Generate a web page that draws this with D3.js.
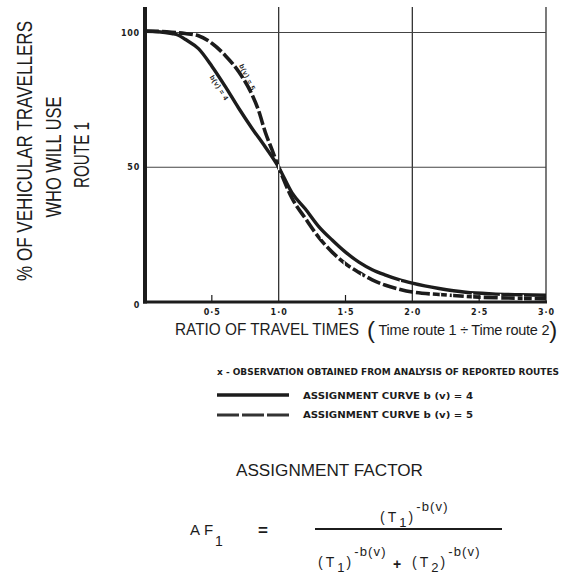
<!DOCTYPE html>
<html>
<head>
<meta charset="utf-8">
<script src="https://cdn.jsdelivr.net/npm/d3@7"></script>
<style>
  html, body { margin: 0; padding: 0; background: #fff; }
  svg { display: block; }
  text { fill: #1c1c1c; font-family: "Liberation Sans", Arial, sans-serif; }
</style>
</head>
<body>
<svg width="563" height="575"></svg>
<script>
// values (ratio of travel times -> % using route 1)
const ratioB4 = [0, 0.1, 0.2, 0.25, 0.3, 0.4, 0.5, 0.6, 0.7, 0.8, 0.9, 1.0, 1.1, 1.2, 1.3, 1.4, 1.5, 1.6, 1.7, 1.8, 1.9, 2.0, 2.2, 2.4, 2.6, 2.8, 3.0];
const pctB4   = [100.5, 100.3, 99.6, 99, 97.5, 94, 87.5, 80, 72, 64.5, 57.5, 50, 40.5, 34.5, 28, 23, 18.5, 14.8, 12, 10, 8.3, 7, 5, 3.6, 3, 2.7, 2.5];

const ratioB5 = [0, 0.1, 0.2, 0.3, 0.4, 0.5, 0.6, 0.7, 0.8, 0.85, 0.9, 0.95, 1.0, 1.1, 1.2, 1.3, 1.4, 1.5, 1.6, 1.7, 1.8, 1.9, 2.0, 2.2, 2.5, 2.8, 3.0];
const pctB5   = [100.5, 100.4, 100.1, 99.6, 98.8, 96, 91.5, 85.5, 77, 71, 63, 56.5, 50, 38.5, 31, 24, 18.5, 14.2, 11, 8.2, 6.2, 4.8, 3.7, 2.8, 1.8, 1.4, 1.2];

// observations from reported routes
const obsRatio = [1.0, 1.32, 1.49, 1.62, 1.91, 2.21, 2.3, 2.45, 2.66, 2.83];
const obsPct   = [50, 24.5, 14, 9.5, 7, 2.2, 2.3, 2.2, 1.9, 1.6];

const xTicks = [0.5, 1.0, 1.5, 2.0, 2.5, 3.0];
const yTicks = [0, 50, 100];
const xGrid = [1.0, 2.0, 3.0];
const yGrid = [50, 100];
const xMinor = [0.5, 1.5, 2.5];

const ink = '#1c1c1c';
const svg = d3.select('svg');

const x = d3.scaleLinear().domain([0, 3]).range([145, 546]);
const y = d3.scaleLinear().domain([0, 100]).range([302, 32.5]);

const g = svg.append('g');

// grid
g.selectAll('.vgrid').data(xGrid)
  .enter().append('line')
  .attr('x1', d => x(d)).attr('x2', d => x(d))
  .attr('y1', 7).attr('y2', y(0))
  .attr('stroke', '#333').attr('stroke-width', 1.3);

g.selectAll('.hgrid').data(yGrid)
  .enter().append('line')
  .attr('x1', x(0)).attr('x2', x(3))
  .attr('y1', d => y(d)).attr('y2', d => y(d))
  .attr('stroke', '#444').attr('stroke-width', 1.2);

// small ticks on the ratio axis
g.selectAll('.minor').data(xMinor)
  .enter().append('line')
  .attr('x1', d => x(d)).attr('x2', d => x(d))
  .attr('y1', y(0) - 7).attr('y2', y(0))
  .attr('stroke', ink).attr('stroke-width', 1.2);

// thick axes
g.append('line')
  .attr('x1', x(0)).attr('x2', x(0)).attr('y1', 7).attr('y2', y(0) + 1.5)
  .attr('stroke', ink).attr('stroke-width', 4);
g.append('line')
  .attr('x1', x(0) - 2).attr('x2', x(3) + 1).attr('y1', y(0)).attr('y2', y(0))
  .attr('stroke', ink).attr('stroke-width', 3.2);

// tick labels via d3 axes
const xAxis = d3.axisBottom(x).tickValues(xTicks).tickSize(0)
  .tickFormat(d => d3.format('.1f')(d).replace('.', '·'));
g.append('g').attr('transform', `translate(0, ${y(0) + 4})`).call(xAxis)
  .call(s => s.select('.domain').remove())
  .selectAll('text')
  .attr('font-size', 8).attr('font-weight', 'bold').attr('fill', ink)
  .attr('letter-spacing', 1).style('font-family', '"DejaVu Sans", sans-serif');

const yAxis = d3.axisLeft(y).tickValues(yTicks).tickSize(0).tickPadding(4);
g.append('g').attr('transform', `translate(${x(0) - 1}, 0)`).call(yAxis)
  .call(s => s.select('.domain').remove())
  .selectAll('text')
  .attr('font-size', 8).attr('font-weight', 'bold').attr('fill', ink)
  .attr('letter-spacing', 0.8).style('font-family', '"DejaVu Sans", sans-serif')
  .attr('dy', d => d === 0 ? '0.7em' : '0.32em');

// curves
const line = d3.line()
  .x(d => x(d[0]))
  .y(d => y(d[1]))
  .curve(d3.curveMonotoneX);

g.append('path')
  .datum(d3.zip(ratioB5, pctB5))
  .attr('d', line)
  .attr('fill', 'none').attr('stroke', ink)
  .attr('stroke-width', 3.6).attr('stroke-dasharray', '14,3');

g.append('path')
  .datum(d3.zip(ratioB4, pctB4))
  .attr('d', line)
  .attr('fill', 'none').attr('stroke', ink)
  .attr('stroke-width', 3.4);

// observation marks
g.selectAll('.obs').data(d3.zip(obsRatio, obsPct))
  .enter().append('line')
  .attr('x1', d => x(d[0])).attr('x2', d => x(d[0]))
  .attr('y1', d => y(d[1]) - 3).attr('y2', d => y(d[1]) + 3)
  .attr('stroke', '#fff').attr('stroke-width', 1.4);

// curve labels
g.append('text')
  .attr('transform', `translate(${x(0.75)}, ${y(83)}) rotate(64)`)
  .attr('text-anchor', 'middle').attr('font-size', 7).attr('font-weight', 'bold')
  .attr('letter-spacing', 0.5)
  .text('b(v) = 5');
g.append('text')
  .attr('transform', `translate(${x(0.54)}, ${y(79)}) rotate(58)`)
  .attr('text-anchor', 'middle').attr('font-size', 7).attr('font-weight', 'bold')
  .attr('letter-spacing', 0.5)
  .text('b(v) = 4');

// y title (three rotated lines, glyphs drawn tall and narrow)
const yTitle = [
  { t: '% OF VEHICULAR TRAVELLERS', x: 32, y: 151, len: 260 },
  { t: 'WHO WILL USE', x: 61, y: 157, len: 121 },
  { t: 'ROUTE 1', x: 89, y: 155, len: 66 }
];
svg.selectAll('.ytitle').data(yTitle)
  .enter().append('text')
  .attr('transform', d => `translate(${d.x}, ${d.y}) rotate(-90) scale(1, 1.3)`)
  .attr('text-anchor', 'middle')
  .attr('font-size', 16.5)
  .attr('textLength', d => d.len).attr('lengthAdjust', 'spacingAndGlyphs')
  .text(d => d.t);

// x title
svg.append('text').attr('x', 175).attr('y', 335)
  .attr('font-size', 16).attr('textLength', 184).attr('lengthAdjust', 'spacingAndGlyphs')
  .text('RATIO  OF  TRAVEL TIMES');
const paren = svg.append('text').attr('x', 367).attr('y', 338);
paren.append('tspan').attr('font-size', 24).attr('font-weight', 300).text('(');
paren.append('tspan').attr('font-size', 14.5).attr('dy', -3).attr('letter-spacing', -0.25)
  .text(' Time route 1 ÷ Time route 2');
paren.append('tspan').attr('font-size', 24).attr('font-weight', 300).attr('dy', 3).text(')');

// legend
const lg = svg.append('g');
lg.append('text').attr('x', 217).attr('y', 375)
  .attr('font-size', 8).attr('font-weight', 'bold')
  .attr('textLength', 342).attr('lengthAdjust', 'spacingAndGlyphs')
  .style('font-family', '"DejaVu Sans Condensed", "DejaVu Sans", sans-serif')
  .text('x - OBSERVATION  OBTAINED  FROM  ANALYSIS  OF  REPORTED  ROUTES');

lg.append('line').attr('x1', 217).attr('x2', 289).attr('y1', 395).attr('y2', 395)
  .attr('stroke', ink).attr('stroke-width', 3.4);
lg.append('text').attr('x', 303).attr('y', 399)
  .attr('font-size', 8.5).attr('font-weight', 'bold')
  .attr('textLength', 170).attr('lengthAdjust', 'spacingAndGlyphs')
  .style('font-family', '"DejaVu Sans Condensed", "DejaVu Sans", sans-serif')
  .text('ASSIGNMENT   CURVE    b (v)   =   4');

lg.append('line').attr('x1', 217).attr('x2', 292).attr('y1', 415).attr('y2', 415)
  .attr('stroke', '#333').attr('stroke-width', 3)
  .attr('stroke-dasharray', '22,3');
lg.append('text').attr('x', 303).attr('y', 418)
  .attr('font-size', 8.5).attr('font-weight', 'bold').attr('fill', '#555')
  .attr('textLength', 170).attr('lengthAdjust', 'spacingAndGlyphs')
  .style('font-family', '"DejaVu Sans Condensed", "DejaVu Sans", sans-serif')
  .text('ASSIGNMENT   CURVE    b (v)   =   5');

// assignment factor formula
const fm = svg.append('g');
fm.append('text').attr('x', 236).attr('y', 476)
  .attr('font-size', 16).attr('textLength', 187).attr('lengthAdjust', 'spacingAndGlyphs')
  .text('ASSIGNMENT   FACTOR');

fm.append('text').attr('x', 190).attr('y', 535).attr('font-size', 15)
  .attr('letter-spacing', 4).text('AF');
fm.append('text').attr('x', 215).attr('y', 546).attr('font-size', 14).text('1');
fm.append('text').attr('x', 258).attr('y', 536).attr('font-size', 17).attr('font-weight', 'bold').text('=');

fm.append('line').attr('x1', 315).attr('x2', 502).attr('y1', 529).attr('y2', 529)
  .attr('stroke', ink).attr('stroke-width', 2.2);

function power(px, py, base) {
  const t = fm.append('text').attr('x', px).attr('y', py).attr('font-size', 14).attr('letter-spacing', 3);
  t.append('tspan').text('(T');
  t.append('tspan').attr('font-size', 13).attr('dy', 5).attr('letter-spacing', 2).text(base);
  t.append('tspan').attr('dy', -5).text(')');
  t.append('tspan').attr('dy', -11).attr('font-size', 13).attr('letter-spacing', 1.2).text('-b(v)');
}
power(380, 522, '1');
power(318, 567, '1');
fm.append('text').attr('x', 393).attr('y', 569).attr('font-size', 14).attr('font-weight', 'bold').text('+');
power(412, 567, '2');
</script>
</body>
</html>
